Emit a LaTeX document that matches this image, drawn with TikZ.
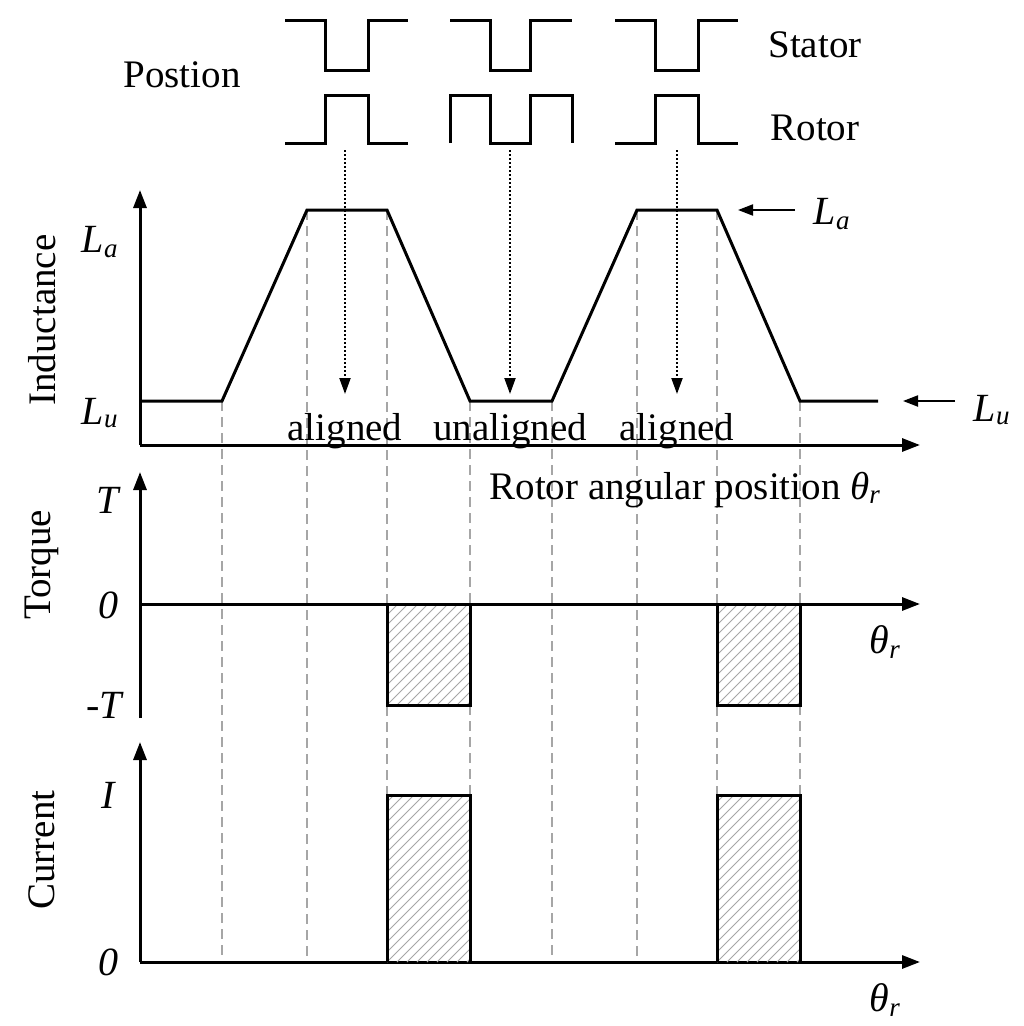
\documentclass[tikz,border=0pt]{standalone}
\usepackage{fontspec}
\setmainfont{Liberation Serif}
\usetikzlibrary{arrows.meta}
\begin{document}
\begin{tikzpicture}[x=1pt,y=-1pt,
  wave/.style={line width=3pt},
  ax/.style={line width=3pt,-{Triangle[length=18pt,width=13pt]}},
  dsh/.style={gray!70,dash pattern=on 10pt off 6pt,line width=1.3pt},
  dot/.style={dotted,line width=2pt,-{Triangle[length=16pt,width=11pt]}},
  lab/.style={font=\fontsize{39}{42}\selectfont,inner sep=0pt},
  ilab/.style={font=\itshape\fontsize{40}{44}\selectfont,inner sep=0pt}]
\useasboundingbox (0,0) rectangle (1024,1026);
\newcommand\hatchbox[4]{%
 \begin{scope}
  \clip (#1,#2) rectangle (#3,#4);
  \foreach \k in {-300,-290,...,300}
    \draw[gray!70,line width=0.9pt] (#1+\k,#4) -- ++(250,-250);
 \end{scope}}
% dashed guides
\foreach \x/\y in {222/401,307/210,387/210,470/401,552/401,637/210,717/210,800/401}
  \draw[dsh] (\x,\y) -- (\x,962);
% position waveforms
\foreach \a in {285,615}{
 \draw[wave] (\a,20) -- ++(40,0) -- ++(0,50) -- ++(43,0) -- ++(0,-50) -- ++(40,0);
 \draw[wave] (\a,143) -- ++(40,0) -- ++(0,-48) -- ++(43,0) -- ++(0,48) -- ++(40,0);}
\draw[wave] (450,20) -- (490,20) -- (490,70) -- (530,70) -- (530,20) -- (572,20);
\draw[wave] (450,143) -- (450,95) -- (490,95) -- (490,143) -- (530,143) -- (530,95) -- (572,95) -- (572,143);
\node[lab] (pos) at (182,75) {Postion};
\node[lab] (st) at (815,45) {Stator};
\node[lab] (ro) at (815,128) {Rotor};
% inductance
\coordinate (o1) at (140,445);
\coordinate (y1) at (140,190);
\coordinate (x1) at (920,445);
\draw[ax] (o1) -- (y1);
\draw[ax] (o1) -- (x1);
\draw[wave] (140,401) -- (222,401) -- (307,210) -- (387,210) -- (470,401) -- (552,401) -- (637,210) -- (717,210) -- (800,401) -- (878,401);
\foreach \x in {345,510,677}{
 \coordinate (s\x) at (\x,150); \coordinate (e\x) at (\x,394);
 \draw[dot] (s\x) -- (e\x);}
\node[lab] at (345,431) {aligned};
\node[lab] at (510,431) {unaligned};
\node[lab] at (677,431) {aligned};
\node[ilab] (la) at (100,242) {L\textsubscript{\fontsize{27}{27}\selectfont a}};
\node[ilab] (lu) at (100,413) {L\textsubscript{\fontsize{27}{27}\selectfont u}};
\node[lab,rotate=90] at (42,320) {Inductance};
\coordinate (la1) at (795,210); \coordinate (la2) at (738,210);
\draw[line width=2pt,-{Triangle[length=15pt,width=11pt]}] (la1) -- (la2);
\node[ilab] at (832,214) {L\textsubscript{\fontsize{27}{27}\selectfont a}};
\coordinate (lu1) at (955,401); \coordinate (lu2) at (903,401);
\draw[line width=2pt,-{Triangle[length=15pt,width=11pt]}] (lu1) -- (lu2);
\node[ilab] at (992,410) {L\textsubscript{\fontsize{27}{27}\selectfont u}};
\node[lab] at (685,490) {Rotor angular position \textit{θ}\textsubscript{\textit{\fontsize{27}{27}\selectfont r}}};
% torque
\coordinate (o2) at (140,718); \coordinate (y2) at (140,472);
\coordinate (z2) at (140,604); \coordinate (x2) at (920,604);
\draw[ax] (o2) -- (y2);
\draw[ax] (z2) -- (x2);
\hatchbox{387}{604}{470}{705}
\hatchbox{717}{604}{800}{705}
\draw[wave] (387,604) rectangle (470,705);
\draw[wave] (717,604) rectangle (800,705);
\node[ilab] at (108,500) {T};
\node[ilab] at (108,605) {0};
\node[ilab] at (104,705) {-T};
\node[lab,rotate=90] at (42,565) {Torque};
\node[ilab] at (885,642) {θ\textsubscript{\fontsize{27}{27}\selectfont r}};
% current
\coordinate (o3) at (140,962); \coordinate (y3) at (140,742); \coordinate (x3) at (920,962);
\draw[ax] (o3) -- (y3);
\draw[ax] (o3) -- (x3);
\hatchbox{387}{795}{470}{962}
\hatchbox{717}{795}{800}{962}
\draw[wave] (387,962) -- (387,795) -- (470,795) -- (470,962);
\draw[wave] (717,962) -- (717,795) -- (800,795) -- (800,962);
\node[ilab] at (108,795) {I};
\node[ilab] at (108,962) {0};
\node[lab,rotate=90] at (42,850) {Current};
\node[ilab] at (885,1000) {θ\textsubscript{\fontsize{27}{27}\selectfont r}};
\end{tikzpicture}
\end{document}
